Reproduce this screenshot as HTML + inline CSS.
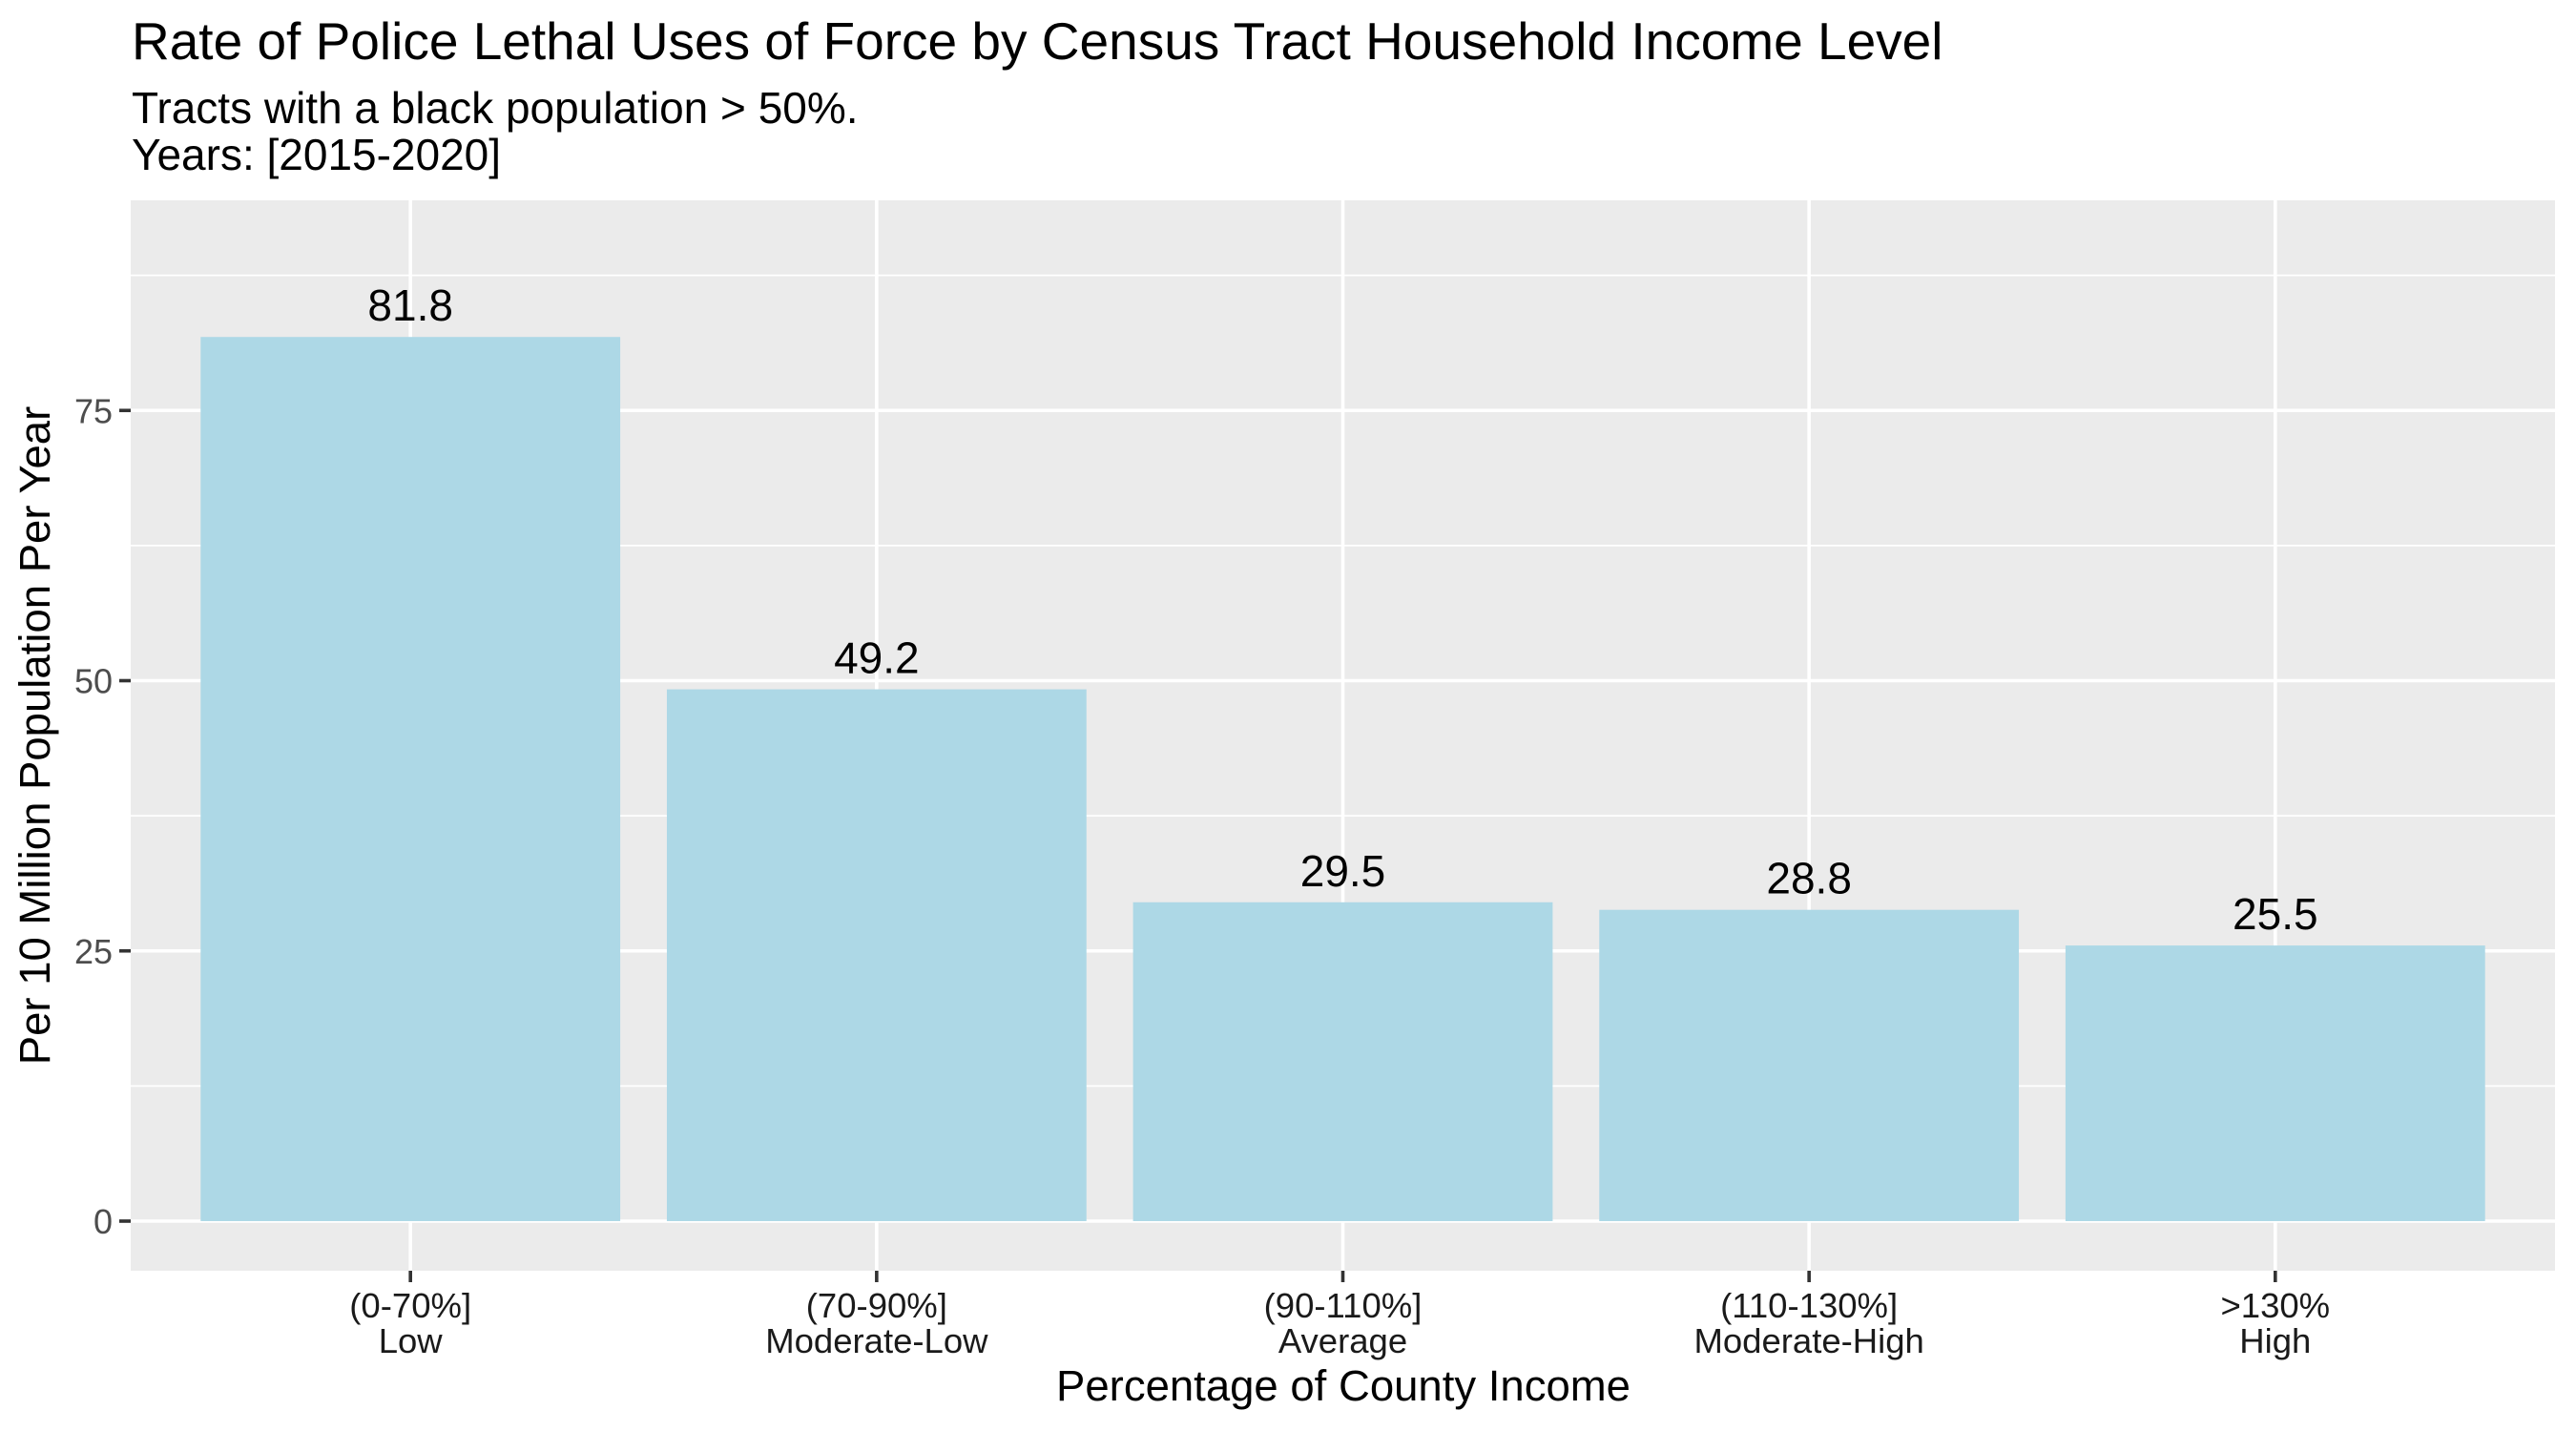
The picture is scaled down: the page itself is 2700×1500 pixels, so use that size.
<!DOCTYPE html>
<html><head><meta charset="utf-8">
<style>
html,body{margin:0;padding:0;background:#fff;}
svg{display:block;font-family:"Liberation Sans",Arial,sans-serif;}
</style></head>
<body>
<svg id="chart" width="2700" height="1500" viewBox="0 0 2700 1500" xmlns="http://www.w3.org/2000/svg">
<rect x="0" y="0" width="2700" height="1500" fill="#ffffff"/>
<text x="138" y="62" font-size="55" fill="#000">Rate of Police Lethal Uses of Force by Census Tract Household Income Level</text>
<text x="138" y="129" font-size="46" fill="#000">Tracts with a black population &gt; 50%.</text>
<text x="138" y="178" font-size="46" fill="#000">Years: [2015-2020]</text>
<rect x="137" y="210" width="2541" height="1122" fill="#ebebeb"/>
<g id="grid"></g>
<g id="bars"></g>
<g id="axes"></g>
<text x="1408" y="1468" font-size="45.5" text-anchor="middle" fill="#000">Percentage of County Income</text>
<text transform="translate(52,771) rotate(-90)" font-size="45.5" text-anchor="middle" fill="#000">Per 10 Million Population Per Year</text>
</svg>
<script>
const categories = ["(0-70%]", "(70-90%]", "(90-110%]", "(110-130%]", ">130%"];
const levels = ["Low", "Moderate-Low", "Average", "Moderate-High", "High"];
const values = [81.8, 49.2, 29.5, 28.8, 25.5];
const labels = ["81.8", "49.2", "29.5", "28.8", "25.5"];
const yTicks = [0, 25, 50, 75];
const yMinor = [12.5, 37.5, 62.5, 87.5];

const NS = "http://www.w3.org/2000/svg";
const PL = 137, PR = 2678, PT = 210, PB = 1332;
const Y0 = 1280, PXU = 11.33;
function y(v){ return Y0 - v * PXU; }
function x(i){ return PL + (i + 1 - 0.4) * (PR - PL) / (categories.length + 0.2); }
const band = (PR - PL) / (categories.length + 0.2);
function mk(tag, attrs, parent){
  const e = document.createElementNS(NS, tag);
  for (const k in attrs) e.setAttribute(k, attrs[k]);
  parent.appendChild(e);
  return e;
}
const grid = document.getElementById('grid');
const bars = document.getElementById('bars');
const axes = document.getElementById('axes');

yMinor.forEach(v => {
  if (y(v) < PT) return;
  const l = mk('line', {x1: PL, x2: PR, y1: y(v), y2: y(v), stroke: '#fff', 'stroke-width': 1.8}, grid);
  
  
});
yTicks.forEach(v => {
  const l = mk('line', {x1: PL, x2: PR, y1: y(v), y2: y(v), stroke: '#fff', 'stroke-width': 3.6}, grid);
  
  
  const t = mk('line', {x1: PL - 12, x2: PL, y1: y(v), y2: y(v), stroke: '#333', 'stroke-width': 3.6}, axes);
  
  
  const tx = mk('text', {x: PL - 19, y: y(v) + 13, 'font-size': 36, 'text-anchor': 'end', fill: '#4d4d4d'}, axes);
  tx.textContent = v;
  
  
});
categories.forEach((c, i) => {
  const cx = x(i);
  const g = mk('line', {x1: cx, x2: cx, y1: PT, y2: PB, stroke: '#fff', 'stroke-width': 3.6}, grid);
  
  
  const w = band * 0.9;
  const r = mk('rect', {x: cx - w / 2, y: y(values[i]), width: w, height: y(0) - y(values[i]), fill: '#add8e6'}, bars);
  
  
  const vl = mk('text', {x: cx, y: y(values[i]) - 17, 'font-size': 46, 'text-anchor': 'middle', fill: '#000'}, bars);
  vl.textContent = labels[i];
  
  
  const t = mk('line', {x1: cx, x2: cx, y1: PB, y2: PB + 12, stroke: '#333', 'stroke-width': 3.6}, axes);
  
  
  const l1 = mk('text', {x: cx, y: 1381, 'font-size': 36.5, 'text-anchor': 'middle', fill: '#1a1a1a'}, axes);
  l1.textContent = c;
  
  
  const l2 = mk('text', {x: cx, y: 1418, 'font-size': 36.5, 'text-anchor': 'middle', fill: '#1a1a1a'}, axes);
  l2.textContent = levels[i];
  
  
});
</script>
</body></html>
